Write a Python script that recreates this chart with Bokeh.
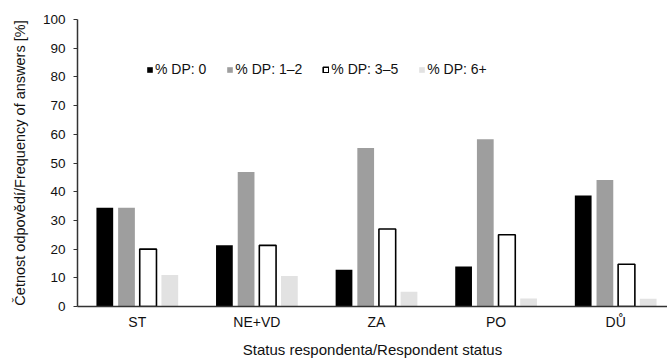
from bokeh.plotting import figure
from bokeh.models import Range1d, FixedTicker, Legend, LegendItem
from bokeh.embed import file_html
from bokeh.resources import INLINE

categories = ["ST", "NE+VD", "ZA", "PO", "DŮ"]
series_names = ["% DP: 0", "% DP: 1–2", "% DP: 3–5", "% DP: 6+"]
dp_0 = [34.4, 21.3, 12.8, 13.9, 38.7]
dp_1_2 = [34.4, 46.9, 55.2, 58.3, 44.1]
dp_3_5 = [20.0, 21.3, 27.0, 25.0, 14.7]
dp_6 = [11.0, 10.6, 5.1, 2.8, 2.7]
y_ticks = [0, 10, 20, 30, 40, 50, 60, 70, 80, 90, 100]

FONT = "Liberation Sans"
TXT = "#111111"

p = figure(width=667, height=360, output_backend="svg", toolbar_location=None,
           x_range=Range1d(0, 590 / 119.6), y_range=Range1d(0, 100),
           min_border_left=77, min_border_right=0, min_border_top=19, min_border_bottom=53)
p.outline_line_color = None
p.xgrid.visible = False
p.ygrid.visible = False

centers = [i + 0.5 for i in range(len(categories))]
offsets = [-0.2717, -0.0903, 0.0903, 0.2717]
bw = 0.14
styles = [
    dict(fill_color="#000000", line_color=None),
    dict(fill_color="#9e9e9e", line_color=None),
    dict(fill_color="#ffffff", line_color="#000000", line_width=1.6),
    dict(fill_color="#e2e2e2", line_color=None),
]
items = []
for vals, off, st, name in zip([dp_0, dp_1_2, dp_3_5, dp_6], offsets, styles, series_names):
    r = p.vbar(x=[c + off for c in centers], top=vals, width=bw, bottom=0, **st)
    items.append(LegendItem(label=name, renderers=[r]))

legend = Legend(items=items, orientation="horizontal", location=(69, 229),
                background_fill_alpha=0, border_line_color=None,
                padding=0, margin=0, spacing=20, label_standoff=2,
                glyph_width=7, glyph_height=7, label_height=14,
                label_text_font=FONT, label_text_font_size="14px", label_text_color=TXT)
p.add_layout(legend, "center")

# x axis
p.xaxis.ticker = FixedTicker(ticks=centers)
p.xaxis.major_label_overrides = {c: lab for c, lab in zip(centers, categories)}
p.xaxis.major_tick_line_color = None
p.xaxis.minor_tick_line_color = None
p.xaxis.major_tick_out = 0
p.xaxis.major_label_standoff = 7
p.xaxis.axis_label = "Status respondenta/Respondent status"
p.xaxis.axis_label_standoff = 8
p.xaxis.axis_line_color = "#333333"
p.xaxis.axis_line_width = 1.5
p.xaxis.major_label_text_font_size = "14px"
p.xaxis.axis_label_text_font_size = "15px"

# y axis
p.yaxis.ticker = FixedTicker(ticks=y_ticks)
p.yaxis.minor_tick_line_color = None
p.yaxis.major_tick_in = 0
p.yaxis.major_tick_out = 4
p.yaxis.major_tick_line_color = "#333333"
p.yaxis.major_label_standoff = 8
p.yaxis.axis_label = "Četnost odpovědí/Frequency of answers [%]"
p.yaxis.axis_label_standoff = 12
p.yaxis.axis_line_color = "#333333"
p.yaxis.axis_line_width = 1.5
p.yaxis.major_label_text_font_size = "13.5px"
p.yaxis.axis_label_text_font_size = "14.5px"

for ax in (p.xaxis, p.yaxis):
    ax.major_label_text_font = FONT
    ax.major_label_text_color = TXT
    ax.axis_label_text_font = FONT
    ax.axis_label_text_font_style = "normal"
    ax.axis_label_text_color = TXT

open("out.html", "w").write(file_html(p, INLINE))
